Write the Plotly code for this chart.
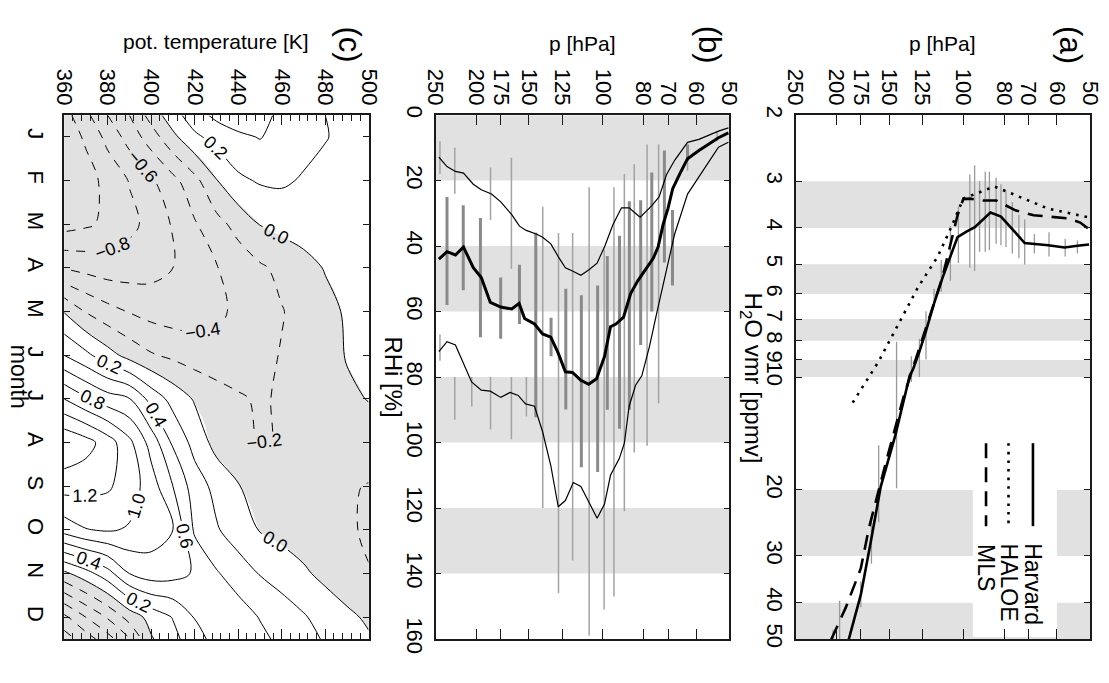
import numpy as np
import plotly.graph_objects as go

W, H = 1109, 683
FONT = "Liberation Sans, Arial, sans-serif"

def px(x):
    return x / W

def py(y):
    return 1 - y / H

# ---------------- panel (a): H2O vmr profiles ----------------
harvard_p = [187, 175, 166, 157, 145, 134, 131.7, 127.1, 122.6, 117.4, 112.2, 107.3, 103.2, 98.3, 93.9, 86.2, 81.4, 76.5, 71.5, 62.9, 57.5, 53.6, 50.3]
harvard_v = [50.1, 38.0, 27.7, 19.6, 14.3, 9.9, 9.55, 8.55, 7.53, 6.38, 5.46, 4.77, 4.23, 4.09, 3.98, 3.64, 3.73, 4.03, 4.39, 4.45, 4.51, 4.46, 4.43]
haloe_p = [183, 159, 143, 128, 115, 107, 100, 84.4, 63, 50.3]
haloe_v = [11.7, 9.1, 7.27, 5.75, 4.77, 4.0, 3.34, 3.10, 3.55, 3.75]
mls_p = [205.7, 189.9, 175.1, 167.5, 150.5, 138.3, 125, 112, 103.2, 100, 96.4, 89.9, 83.5, 75.2, 68.1, 56.5, 52.8, 50.3]
mls_v = [50.1, 41.1, 32.4, 25.3, 15.9, 11.2, 7.9, 5.4, 3.70, 3.35, 3.34, 3.38, 3.38, 3.59, 3.70, 3.77, 3.87, 4.03]
errA_p = [102.7, 96.5, 94.0, 91.5, 88.7, 86.7, 83.6, 81.4, 79.2, 76.5, 73.8, 71.5, 67.8, 62.6, 57.3, 53.6, 107.3, 112.8, 117.3, 122.6, 127.1, 132.8, 144.0, 158.8, 165.2, 175.1, 196.6, 203.8]
errA_lo = [3.51, 2.88, 2.72, 3.0, 2.83, 2.83, 2.94, 3.06, 3.18, 3.41, 3.69, 3.80, 4.15, 4.11, 4.28, 4.32, 3.95, 4.87, 5.81, 6.67, 7.9, 8.8, 8.05, 15.2, 24.1, 35.1, 39.5, 47.2]
errA_hi = [4.96, 5.11, 5.21, 4.63, 4.63, 4.59, 4.41, 4.45, 4.50, 4.68, 4.82, 5.01, 4.68, 4.77, 4.77, 4.68, 5.53, 5.93, 6.35, 8.98, 10.0, 10.3, 19.8, 24.4, 31.5, 41.1, 50.0, 50.0]
bandA = [(3, 4), (5, 6), (7, 8), (9, 10), (20, 30), (40, 50)]
vmr_ticks = [2, 3, 4, 5, 6, 7, 8, 9, 10, 20, 30, 40, 50]
p_ticks = [250, 200, 175, 150, 125, 100, 80, 70, 60, 50]

# ---------------- panel (b): RHi ----------------
mean_p = [245.5, 234.8, 224.2, 214.5, 203.3, 194.6, 185.2, 174.9, 164.7, 158.2, 153.5, 145.4, 139.1, 133.0, 127.7, 122.8, 118.1, 112.8, 108.1, 103.5, 99.1, 95.9, 93.1, 89.3, 85.9, 82.6, 78.9, 75.9, 73.9, 71.9, 70.0, 68.2, 65.2, 62.9, 59.1, 56.0, 53.1, 50.3]
mean_r = [44.0, 41.7, 42.7, 40.3, 46.6, 49.6, 57.2, 58.6, 59.2, 57.5, 62.1, 63.8, 66.8, 67.8, 72.7, 78.4, 78.6, 81.0, 82.2, 80.5, 73.7, 64.6, 63.8, 61.7, 54.5, 50.6, 46.9, 43.7, 40.3, 33.4, 28.5, 22.4, 17.2, 13.3, 10.8, 8.8, 6.9, 5.4]
low_p = [245.5, 234.8, 224.2, 214.5, 203.3, 194.6, 184.0, 174.9, 164.7, 157.9, 152.1, 144.0, 139.1, 133.0, 127.7, 122.8, 118.1, 112.8, 108.1, 103.2, 98.8, 94.6, 90.3, 86.6, 82.9, 81.5, 76.6, 73.5, 70.6, 67.5, 62.9, 59.1, 53.1, 50.3]
low_r = [12.8, 15.7, 17.2, 17.7, 21.1, 22.8, 24.1, 26.5, 30.4, 33.9, 35.2, 36.3, 37.3, 39.3, 43.2, 46.6, 47.6, 48.9, 47.3, 45.2, 39.8, 33.4, 28.3, 28.3, 30.4, 31.2, 27.7, 25.0, 18.2, 13.8, 8.3, 7.4, 4.9, 3.9]
high_p = [245.5, 234.8, 224.2, 214.5, 205.2, 194.6, 185.2, 174.9, 166.2, 159.0, 152.7, 145.4, 139.1, 133.0, 127.7, 122.8, 117.6, 112.8, 108.1, 103.2, 99.1, 95.9, 91.4, 88.9, 86.6, 83.6, 80.8, 77.5, 74.3, 70.6, 67.5, 62.9, 59.1, 53.1, 50.3]
high_r = [72.2, 69.2, 70.2, 75.6, 81.5, 84.0, 84.3, 86.2, 84.7, 85.6, 88.2, 88.9, 96.7, 107.0, 119.6, 117.7, 112.2, 113.4, 117.9, 123.1, 118.8, 110.0, 104.9, 100.2, 88.9, 82.5, 79.6, 70.7, 59.9, 47.1, 36.3, 24.1, 18.7, 9.8, 8.3]
thinB_p = [244, 244, 225, 225, 205, 185, 185, 165, 165, 152, 139, 127.5, 118, 107.8, 99.3, 94.1, 88.9, 84.2, 78.5, 73.7, 62.9, 53.5]
thinB_lo = [8, 67, 10, 80, 80, 16, 80, 13, 80, 80, 28, 36, 36, 22, 41, 22, 18, 15, 9, 9, 10, 5]
thinB_hi = [18, 75, 24, 93, 89, 32, 96, 47, 99, 92, 120, 146, 136, 159, 151, 147, 121, 103, 101, 88, 17, 8]
thickB_p = [234.8, 214.8, 195.5, 175, 157.9, 144.4, 132.8, 122.5, 112.5, 102.9, 97.6, 91.3, 86.5, 81.3, 76.5, 71.4, 68.3, 62.9]
thickB_lo = [25, 27.5, 31.4, 49.6, 45.7, 35.9, 61.9, 53, 55, 52, 43, 36.8, 26.3, 26, 17.5, 10.8, 29, 9]
thickB_hi = [58, 53.5, 67.8, 68.3, 63.8, 92.3, 73.6, 89.9, 107.5, 109, 90, 95.8, 90, 70.2, 60, 45, 52, 14]
bandB = [(0, 20), (40, 60), (80, 100), (120, 140)]

# ---------------- panel (c): contour field ----------------
theta = [360, 370, 380, 390, 400, 410, 420, 430, 440, 450, 460, 470, 480, 490, 500]
month_pos = [0.5, 1, 2, 3, 4, 5, 6, 7, 8, 9, 10, 11, 12, 12.5]
month_labels = ["J", "F", "M", "A", "M", "J", "J", "A", "S", "O", "N", "D"]
row_05 = [-1.08, -0.85, -0.60, -0.40, -0.12, 0.12, 0.31, 0.45, 0.52, 0.50, 0.33, 0.27, 0.20, 0.15, 0.12]
row_01 = [-1.12, -0.97, -0.74, -0.52, -0.30, -0.05, 0.16, 0.27, 0.36, 0.41, 0.33, 0.27, 0.21, 0.15, 0.12]
row_02 = [-1.18, -1.08, -0.94, -0.79, -0.63, -0.46, -0.26, -0.01, 0.16, 0.22, 0.23, 0.18, 0.14, 0.11, 0.10]
row_03 = [-1.08, -1.03, -0.96, -0.85, -0.74, -0.58, -0.42, -0.27, -0.13, 0.006, 0.06, 0.08, 0.09, 0.10, 0.10]
row_04 = [-0.61, -0.66, -0.70, -0.70, -0.67, -0.60, -0.50, -0.41, -0.32, -0.23, -0.15, -0.06, 0.01, 0.05, 0.07]
row_05m = [-0.01, -0.21, -0.33, -0.41, -0.47, -0.50, -0.50, -0.45, -0.35, -0.27, -0.21, -0.13, -0.05, 0.02, 0.05]
row_06 = [0.40, 0.25, 0.08, -0.07, -0.18, -0.24, -0.29, -0.32, -0.30, -0.25, -0.19, -0.13, -0.07, 0.01, 0.04]
row_07 = [1.00, 0.83, 0.69, 0.61, 0.33, 0.13, -0.02, -0.11, -0.18, -0.22, -0.18, -0.13, -0.08, -0.03, 0.006]
row_08 = [1.58, 1.48, 1.30, 1.05, 0.72, 0.37, 0.13, -0.07, -0.15, -0.21, -0.19, -0.15, -0.12, -0.10, -0.08]
row_09 = [1.28, 1.26, 1.23, 1.10, 0.90, 0.60, 0.30, 0.14, 0.01, -0.07, -0.12, -0.14, -0.16, -0.18, -0.21]
row_10 = [0.88, 0.99, 1.02, 0.98, 0.90, 0.80, 0.37, 0.22, 0.10, -0.01, -0.06, -0.10, -0.13, -0.17, -0.23]
row_11 = [-0.05, 0.12, 0.32, 0.60, 0.70, 0.67, 0.58, 0.42, 0.30, 0.19, 0.11, 0.03, -0.05, -0.12, -0.19]
row_12 = [-0.85, -0.60, -0.38, -0.12, 0.07, 0.21, 0.41, 0.50, 0.50, 0.39, 0.31, 0.22, 0.12, 0.04, -0.03]
row_125 = [-1.10, -0.90, -0.68, -0.42, -0.02, 0.14, 0.32, 0.47, 0.52, 0.45, 0.35, 0.27, 0.18, 0.10, 0.02]
Z = [row_05, row_01, row_02, row_03, row_04, row_05m, row_06, row_07, row_08, row_09, row_10, row_11, row_12, row_125]


def segments(ps, los, his):
    xs, ys = [], []
    for p, lo, hi in zip(ps, los, his):
        xs += [p, p, None]
        ys += [lo, hi, None]
    return xs, ys


fig = go.Figure()

# ---- panel (c): grey shading of negative values (bilinear, sharp step at 0)
fig.add_trace(go.Heatmap(x=theta, y=month_pos, z=Z, xaxis="x", yaxis="y", zsmooth="best",
                         zmin=-1, zmax=1,
                         colorscale=[[0, "#e1e1e1"], [0.4999, "#e1e1e1"], [0.5, "#ffffff"], [1, "#ffffff"]],
                         showscale=False, hoverinfo="skip"))
fig.add_trace(go.Contour(x=theta, y=month_pos, z=Z, xaxis="x", yaxis="y",
                         autocontour=False,
                         contours=dict(start=-1.2, end=-0.2, size=0.2, coloring="none",
                                       showlabels=True, labelformat=".1f",
                                       labelfont=dict(size=18, color="black", family=FONT)),
                         line=dict(color="black", width=1, dash="9px,8px"),
                         showscale=False, hoverinfo="skip"))
fig.add_trace(go.Contour(x=theta, y=month_pos, z=Z, xaxis="x", yaxis="y",
                         autocontour=False,
                         contours=dict(start=0, end=1.6, size=0.2, coloring="none",
                                       showlabels=True, labelformat=".1f",
                                       labelfont=dict(size=18, color="black", family=FONT)),
                         line=dict(color="black", width=1),
                         showscale=False, hoverinfo="skip"))

# ---- panel (b)
xs, ys = segments(thinB_p, thinB_lo, thinB_hi)
fig.add_trace(go.Scatter(x=xs, y=ys, xaxis="x2", yaxis="y2", mode="lines",
                         line=dict(color="#a3a3a3", width=1.5), hoverinfo="skip"))
xs, ys = segments(thickB_p, thickB_lo, thickB_hi)
fig.add_trace(go.Scatter(x=xs, y=ys, xaxis="x2", yaxis="y2", mode="lines",
                         line=dict(color="#8a8a8a", width=3), hoverinfo="skip"))
fig.add_trace(go.Scatter(x=low_p, y=low_r, xaxis="x2", yaxis="y2", mode="lines",
                         line=dict(color="black", width=1.2)))
fig.add_trace(go.Scatter(x=high_p, y=high_r, xaxis="x2", yaxis="y2", mode="lines",
                         line=dict(color="black", width=1.2)))
fig.add_trace(go.Scatter(x=mean_p, y=mean_r, xaxis="x2", yaxis="y2", mode="lines",
                         line=dict(color="black", width=3)))

# ---- panel (a)
xs, ys = segments(errA_p, errA_lo, errA_hi)
fig.add_trace(go.Scatter(x=xs, y=ys, xaxis="x3", yaxis="y3", mode="lines",
                         line=dict(color="#9a9a9a", width=1.3), hoverinfo="skip"))
fig.add_trace(go.Scatter(x=haloe_p, y=haloe_v, xaxis="x3", yaxis="y3", mode="lines",
                         line=dict(color="black", width=2.6, dash="2.6px,6px")))
fig.add_trace(go.Scatter(x=mls_p, y=mls_v, xaxis="x3", yaxis="y3", mode="lines",
                         line=dict(color="black", width=2.6, dash="15px,9px")))
fig.add_trace(go.Scatter(x=harvard_p, y=harvard_v, xaxis="x3", yaxis="y3", mode="lines",
                         line=dict(color="black", width=2.6)))

ydom = [py(653), py(110)]
axis_common = dict(showline=True, linecolor="#1a1a1a", linewidth=1.8, mirror="ticks",
                   ticks="inside", tickcolor="#1a1a1a", showgrid=False, zeroline=False,
                   tickfont=dict(family=FONT, size=22, color="black"), tickangle=90)

fig.update_layout(
    width=W, height=H, margin=dict(l=0, r=0, t=0, b=0),
    paper_bgcolor="white", plot_bgcolor="white", showlegend=False,
    xaxis=dict(domain=[px(53.3), px(365)], anchor="y", side="top", range=[360, 500],
               tickmode="array", tickvals=[360, 380, 400, 420, 440, 460, 480, 500],
               ticklen=10, tickwidth=1.2,
               minor=dict(dtick=4, tick0=360, ticks="inside", ticklen=6, tickcolor="#1a1a1a", tickwidth=1.1),
               **axis_common),
    yaxis=dict(domain=ydom, anchor="x", range=[12.5, 0.5], tickmode="array",
               tickvals=list(range(1, 13)), ticktext=month_labels, ticklen=6, tickwidth=1.2,
               ticklabelstandoff=8, **axis_common),
    xaxis2=dict(domain=[px(433.3), px(734)], anchor="y2", side="top", type="log",
                range=[np.log10(250), np.log10(50)], tickmode="array", tickvals=p_ticks,
                ticktext=[str(v) for v in p_ticks], ticklen=10, tickwidth=1.2, **axis_common),
    yaxis2=dict(domain=ydom, anchor="x2", range=[160, 0], tickmode="array",
                tickvals=list(range(0, 161, 20)), ticklen=6, tickwidth=1.2, **axis_common),
    xaxis3=dict(domain=[px(801.7), px(1103)], anchor="y3", side="top", type="log",
                range=[np.log10(250), np.log10(50)], tickmode="array", tickvals=p_ticks,
                ticktext=[str(v) for v in p_ticks], ticklen=10, tickwidth=1.2, **axis_common),
    yaxis3=dict(domain=ydom, anchor="x3", type="log", range=[np.log10(50), np.log10(2)],
                tickmode="array", tickvals=vmr_ticks, ticktext=[str(v) for v in vmr_ticks],
                ticklen=6, tickwidth=1.2, **axis_common),
)

shapes = []
for lo, hi in bandB:
    shapes.append(dict(type="rect", xref="x2 domain", yref="y2", x0=0, x1=1, y0=lo, y1=hi,
                       fillcolor="#e1e1e1", line=dict(width=0), layer="below"))
for lo, hi in bandA:
    shapes.append(dict(type="rect", xref="x3 domain", yref="y3", x0=0, x1=1, y0=lo, y1=hi,
                       fillcolor="#e1e1e1", line=dict(width=0), layer="below"))
# legend box (white) inside panel (a)
shapes.append(dict(type="rect", xref="paper", yref="paper", x0=px(983), x1=px(1069),
                   y0=py(651), y1=py(430), fillcolor="white", line=dict(width=0), layer="below"))
# legend samples
for xc, dash in [(1044.5, "solid"), (1019.5, "2.6px,6px"), (996.5, "15px,9px")]:
    shapes.append(dict(type="line", xref="paper", yref="paper", x0=px(xc), x1=px(xc),
                       y0=py(450), y1=py(536), line=dict(color="black", width=2.6, dash=dash)))
fig.update_layout(shapes=shapes)

ann = []
def add_text(txt, x, y, size, angle=0, xa="center", ya="middle"):
    ann.append(dict(text=txt, x=px(x), y=py(y), xref="paper", yref="paper", showarrow=False,
                    textangle=angle, xanchor=xa, yanchor=ya,
                    font=dict(family=FONT, size=size, color="black")))

add_text("(c)", 345, 37, 31, 90)
add_text("(b)", 713, 37, 31, 90)
add_text("(a)", 1083, 37, 31, 90)
add_text("pot. temperature [K]", 208.5, 34, 21)
add_text("p [hPa]", 583.5, 36, 21)
add_text("p [hPa]", 952, 36, 21)
add_text("month", 8, 381, 23, 90)
add_text("RHi [%]", 390, 381, 24, 90)
add_text("H<sub>2</sub>O vmr [ppmv]", 757, 383, 24, 90)
add_text("Harvard", 1045, 552, 23, 90, ya="top")
add_text("HALOE", 1020, 552, 23, 90, ya="top")
add_text("MLS", 996.5, 552, 23, 90, ya="top")
fig.update_layout(annotations=ann)

fig.write_html("out.html")
